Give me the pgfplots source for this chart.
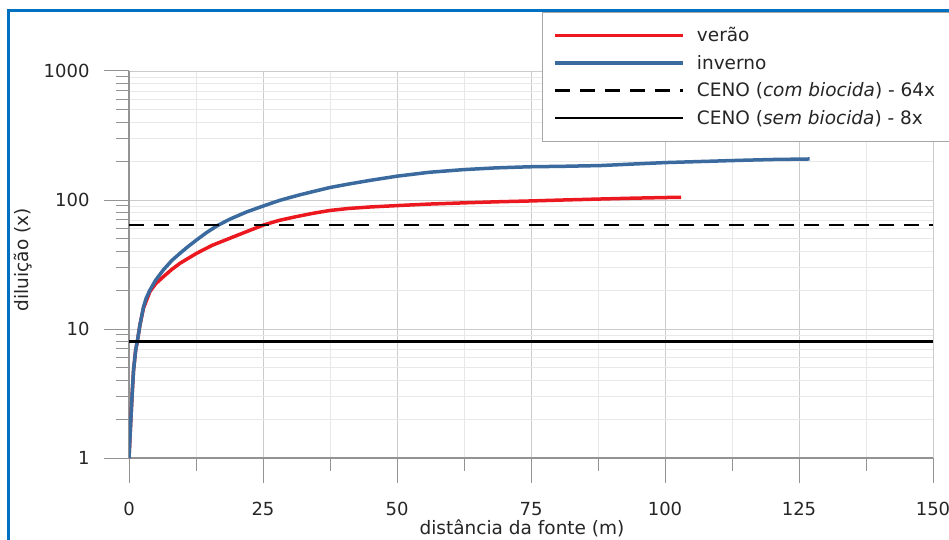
\documentclass[border=0pt]{standalone}
\usepackage{pgfplots}
\pgfplotsset{compat=1.18}
\usepackage{fontspec}
\setmainfont{DejaVu Sans}
\definecolor{frameblue}{RGB}{0,112,192}
\definecolor{summerred}{RGB}{236,24,32}
\definecolor{winterblue}{RGB}{58,106,158}

\pgfplotstableread{
x y
0 1
0.35 2
0.6 3.2
0.85 4.8
1.25 6.9
1.55 8
2.05 10.8
2.7 14.5
3.9 19.5
5 22.5
6.4 25.4
8 29
9.5 32.3
12.6 38.6
15.5 44.5
18.8 50.5
22 57
25.1 64
28 69.5
31 74
34.4 79
37.5 83
41 86
45 88.3
50 90.5
56 93
62.4 95
68.5 96.8
74.8 98.3
81 100
88 101.8
94 103.3
100 104.5
103 105
}\verao

\pgfplotstableread{
x y
0 1
0.35 2
0.6 3.2
0.85 4.8
1.25 6.9
1.55 8
2.05 10.8
2.7 14.8
3.2 17.3
3.9 20
5 24
6.4 28.7
8 34
9.5 38.6
11 43.5
12.6 49
14.5 56
16.4 63
18.8 71
22 81
25.1 90
28 99
30 104.5
32 110
35 118
37.5 125
41 133
45 142
50 153
56 164
62.4 172
68.5 177.5
74.8 181
81 182.5
88 185
94 190
100 195
107 199
114 203
120 206
127 208
}\inverno

\begin{document}
\begin{tikzpicture}
\useasboundingbox (0,0) rectangle (949pt,539pt);
\begin{axis}[
  at={(129pt,81pt)}, anchor=south west,
  scale only axis, width=804pt, height=387pt,
  xmin=0, xmax=150, ymode=log, ymin=1, ymax=1000,
  axis x line=bottom, axis y line=left,
  axis line style={-, color=gray!85, line width=1.2pt},
  xtick={0,25,...,150}, minor xtick={12.5,37.5,...,137.5},
  ytick={1,10,100,1000}, yticklabels={1,10,100,1000},
  minor ytick={2,...,9,20,30,...,90,200,300,...,900},
  tick align=outside, major tick length=25pt, minor tick length=13pt,
  every tick/.style={color=gray!85, line width=1pt},
  xmajorgrids, xminorgrids, ymajorgrids, yminorgrids,
  major grid style={gray!40, line width=0.8pt},
  minor grid style={gray!18, line width=0.8pt},
  /pgf/number format/assume math mode=true,
  ticklabel style={font=\fontsize{18}{21}\selectfont, color=black!85},
  xticklabel style={anchor=north, yshift=-16pt},
  yticklabel style={anchor=east, xshift=-11pt},
  xlabel={distância da fonte (m)},
  ylabel={diluição (x)},
  label style={font=\fontsize{18.5}{22}\selectfont, color=black!85},
  x label style={at={(axis description cs:0.4888,-0.198)}, anchor=base},
  y label style={at={(axis description cs:-0.1318,0.512)}, anchor=center},
  legend style={at={(0.5137,1.1525)}, anchor=north west, draw=gray!70,
    line width=0.8pt, fill=white, font=\fontsize{18.5}{22}\selectfont,
    text=black!85, inner xsep=11pt, inner ysep=13pt, row sep=8pt},
  legend cell align=left,
  legend image code/.code={\draw[#1] (0pt,0pt) -- (128pt,0pt); \path (138pt,0pt);},
]
\addplot[summerred, line width=3.5pt] table[x=x, y=y] {\verao};
\addlegendentry{verão}
\addplot[winterblue, line width=3.5pt] table[x=x, y=y] {\inverno};
\addlegendentry{inverno}
\addplot[black, line width=2.5pt, dash pattern=on 15pt off 10pt] coordinates {(0,64) (150,64)};
\addlegendentry{CENO (\textit{com biocida}) - 64x\hspace*{30pt}}
\addplot[black, line width=2.5pt] coordinates {(0,8) (150,8)};
\addlegendentry{CENO (\textit{sem biocida}) - 8x}
\end{axis}
\draw[frameblue, line width=3pt] (8.5pt,-10pt) rectangle (980pt,528pt);
\end{tikzpicture}
\end{document}
